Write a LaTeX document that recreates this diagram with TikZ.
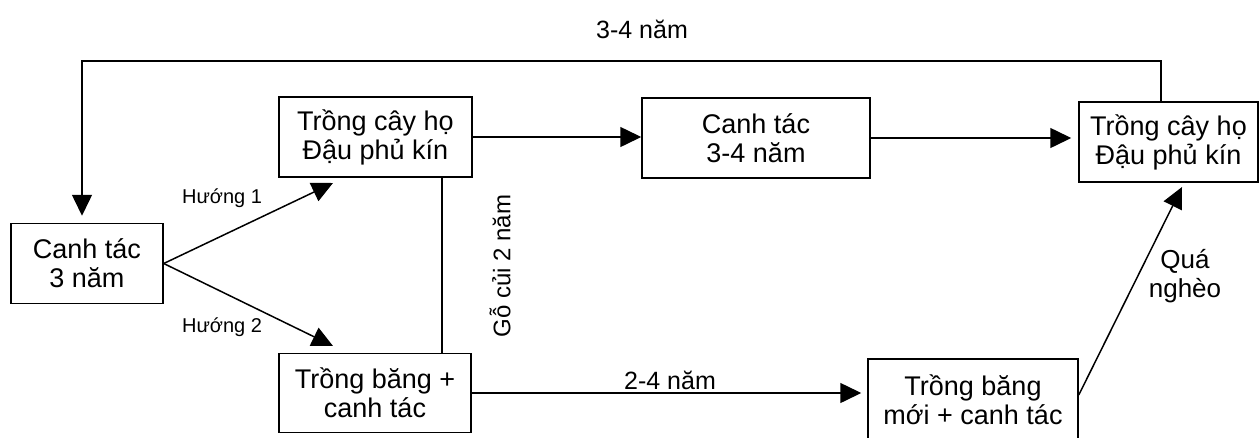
\documentclass[tikz,border=0pt]{standalone}
\usepackage{fontspec}
\setmainfont{Liberation Sans}
\usetikzlibrary{arrows.meta}
\begin{document}
\begin{tikzpicture}[x=1pt,y=-1pt,
  box/.style={draw, line width=1.5pt, inner sep=0pt, align=center,
    font=\fontsize{27}{29}\selectfont},
  arr/.style={line width=1.5pt, -{Triangle[length=21pt,width=20pt]}},
  plain/.style={line width=1.5pt},
  lbl/.style={inner sep=0pt, font=\fontsize{25}{30}\selectfont, align=center},
  slbl/.style={inner sep=0pt, font=\fontsize{20}{24}\selectfont}]
\useasboundingbox (0,0) rectangle (1260,437);
\fill[white] (0,0) rectangle (1260,437);
% boxes
\node[box, minimum width=152pt, minimum height=80pt] (A) at (87,263.5) {Canh tác\\3 năm};
\node[box, minimum width=193pt, minimum height=80pt] (B) at (375.5,137) {Trồng cây họ\\Đậu phủ kín};
\node[box, minimum width=192pt, minimum height=79pt] (C) at (375,393) {Trồng băng +\\canh tác};
\node[box, minimum width=228pt, minimum height=80pt] (D) at (756,138) {Canh tác\\3-4 năm};
\node[box, minimum width=179pt, minimum height=80pt] (E) at (1168.5,142) {Trồng cây họ\\Đậu phủ kín};
\node[box, minimum width=210pt, minimum height=82pt] (F) at (973,400) {Trồng băng\\mới + canh tác};
% coordinates
\coordinate (fbR) at (1161,61);
\coordinate (fbL) at (82,61);
\coordinate (tipB) at (333,183);
\coordinate (tipC) at (333,346);
\coordinate (tipE) at (1182,187);
\coordinate (vx) at (442,0);
% connectors
\draw[arr, shorten >=7pt] (E.north -| fbR) -- (fbR) -- (fbL) -- (A.north -| fbL);
\draw[arr] (B.east) -- (B.east -| D.west);
\draw[arr, shorten >=7pt] (D.east) -- (D.east -| E.west);
\draw[arr] (A.east) -- (tipB);
\draw[arr] (A.east) -- (tipC);
\draw[plain] (B.south -| vx) -- (C.north -| vx);
\draw[arr, shorten >=6pt] (C.east) -- (C.east -| F.west);
\draw[arr] ([yshift=5pt]F.east) -- (tipE);
% labels
\node[lbl] (t34) at (642,29) {3-4 năm};
\node[slbl] (h1) at (222,198) {Hướng 1};
\node[slbl] (h2) at (222,327) {Hướng 2};
\node[lbl, rotate=90, font=\fontsize{24}{28}\selectfont] (go) at (500,266) {Gỗ củi 2 năm};
\node[lbl, anchor=base] (t24) at (670,389) {2-4 năm};
\node[lbl, font=\fontsize{26}{29}\selectfont] (qn) at (1185,276) {Quá\\nghèo};
\end{tikzpicture}
\end{document}
